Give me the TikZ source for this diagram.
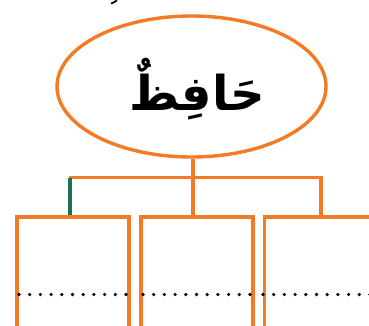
\documentclass[tikz,border=0pt]{standalone}
\usepackage{fontspec}
\usetikzlibrary{shapes.geometric}
\newfontfamily\arabicfont[Script=Arabic]{DejaVu Sans}
\TeXXeTstate=1
\definecolor{orng}{HTML}{F47A26}
\definecolor{grn}{HTML}{1A7450}
\begin{document}
\begin{tikzpicture}[x=1pt,y=-1pt,
  ln/.style={draw=orng,line width=3.4pt},
  boxst/.style={draw=orng,line width=3.6pt,minimum width=112pt,minimum height=140pt,anchor=north west,inner sep=0pt},
  dots/.style={line width=3.6pt,line cap=round,dash pattern=on 0pt off 10.7pt},
]
\useasboundingbox (0,0) rectangle (369,325);
\clip (0,0) rectangle (369,325);
\fill[white] (0,0) rectangle (369,325);
% stray fragment at top
\draw[line width=1.8pt,line cap=round] (111.5,3.5) -- (116.5,0.8);
% ellipse
\node[draw=orng,line width=3.4pt,ellipse,minimum width=269pt,minimum height=141pt,inner sep=0pt] (e) at (191.5,86.5) {};
\node[inner sep=0pt] (t) at (197,89) {\arabicfont\bfseries\fontsize{48}{54}\selectfont\beginR حَافِظٌ\endR};
% boxes
\node[boxst] (b1) at (15,215) {};
\node[boxst] (b2) at (139,215) {};
\node[boxst] (b3) at (262.5,215) {};
% connectors
\coordinate (j) at (193,177.5);
\coordinate (jl) at (68.5,177.5);
\coordinate (jr) at (322.5,177.5);
\draw[ln] (j |- e.south) -- (j);
\draw[ln] (jl) -- (jr);
\draw[draw=grn,line width=3.4pt] (70,177.5) -- (70,215);
\draw[ln] (193,177.5) -- (193,215);
\draw[ln] (321,177.5) -- (321,215);
% dotted lines
\draw[dots] (19,294.5) -- (126.5,294.5);
\draw[dots] (143,294.5) -- (250.5,294.5);
\draw[dots] (263,294.5) -- (380,294.5);
\end{tikzpicture}
\end{document}
